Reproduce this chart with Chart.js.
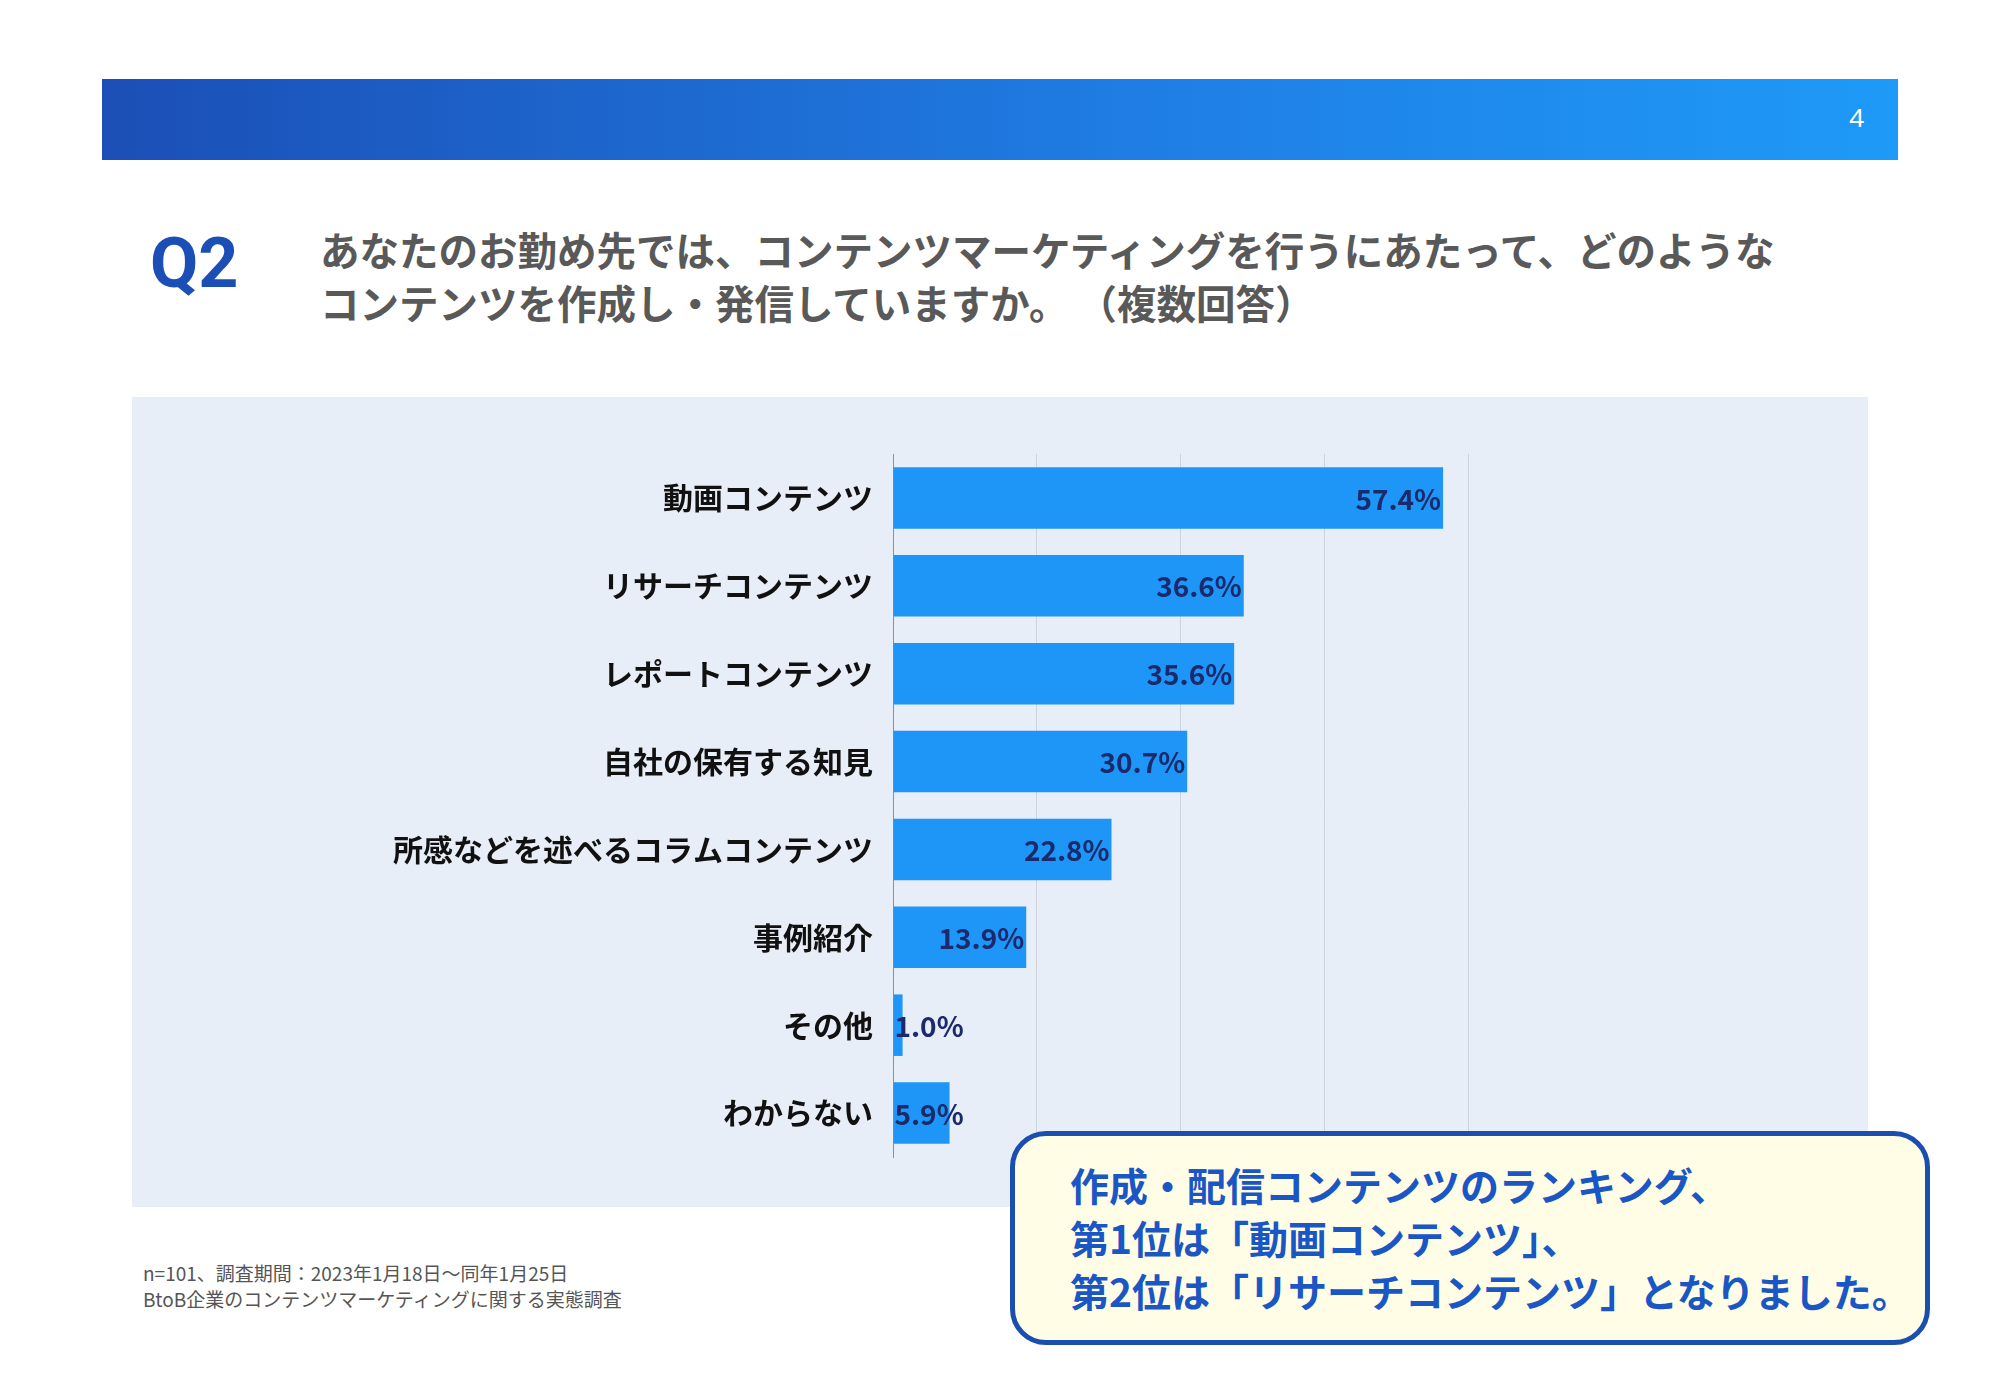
<!DOCTYPE html>
<html>
<head>
<meta charset="utf-8">
<script src="https://cdn.jsdelivr.net/npm/chart.js@4"></script>
<style>
  body { margin: 0; width: 1999px; height: 1382px; background: #fff; position: relative; overflow: hidden;
         font-family: "Noto Sans CJK JP", "Noto Sans", sans-serif; }
  .header { position: absolute; left: 102px; top: 79px; width: 1796px; height: 81px;
            background: linear-gradient(90deg, #1b4fb6 0%, #1f7fe6 60%, #1e9af8 100%); }
  .page { position: absolute; right: 34px; top: 20px; color: #fff; font-size: 26px; font-family: "Noto Sans", sans-serif; }
  .q { position: absolute; left: 150px; top: 222px; font-size: 70px; font-weight: 700; color: #1b4fb6; font-family: Roboto, "Noto Sans", sans-serif; }
  .question { position: absolute; left: 320px; top: 222px; font-size: 39.5px; font-weight: 700; color: #595959; line-height: 53px; }
  .panel { position: absolute; left: 132px; top: 397px; width: 1736px; height: 810px; background: #e8eef8; }
  #chart { position: absolute; left: 127px; top: 416px; }
  .note { position: absolute; left: 143px; top: 1260px; font-size: 19px; color: #555; line-height: 26px; }
  .callout { position: absolute; left: 1010px; top: 1131px; width: 920px; height: 214px; box-sizing: border-box;
             background: #fffde5; border: 5px solid #1a4fb0; border-radius: 36px; }
  .callout div { position: absolute; left: 55px; top: 22px; font-size: 39px; font-weight: 700; color: #1a56c4; line-height: 53px; white-space: nowrap; }
</style>
</head>
<body>
<div class="header"><span class="page">4</span></div>
<div class="q">Q2</div>
<div class="question">あなたのお勤め先では、コンテンツマーケティングを行うにあたって、どのような<br>コンテンツを作成し・発信していますか。 （複数回答）</div>
<div class="panel"></div>
<canvas id="chart" width="1344" height="779"></canvas>
<div class="note">n=101、調査期間：2023年1月18日〜同年1月25日<br>BtoB企業のコンテンツマーケティングに関する実態調査</div>
<div class="callout"><div>作成・配信コンテンツのランキング、<br>第1位は「動画コンテンツ」、<br>第2位は「リサーチコンテンツ」となりました。</div></div>
<script>
const categories = ['動画コンテンツ', 'リサーチコンテンツ', 'レポートコンテンツ', '自社の保有する知見',
  '所感などを述べるコラムコンテンツ', '事例紹介', 'その他', 'わからない'];
const values = [57.4, 36.6, 35.6, 30.7, 22.8, 13.9, 1.0, 5.9];
const xMax = 60;
const xStep = 15;

const FONT = '"Noto Sans CJK JP", "Noto Sans", sans-serif';

const valueLabels = {
  id: 'valueLabels',
  afterDatasetsDraw(chart) {
    const ctx = chart.ctx;
    const meta = chart.getDatasetMeta(0);
    ctx.save();
    ctx.font = 'bold 28px ' + FONT;
    ctx.fillStyle = '#1a2a6c';
    ctx.textBaseline = 'middle';
    ctx.textAlign = 'left';
    meta.data.forEach((bar, i) => {
      const txt = values[i].toFixed(1) + '%';
      const w = ctx.measureText(txt).width;
      const x = Math.max(bar.x - w - 2, bar.base + 1);
      ctx.fillText(txt, x, bar.y + 1);
    });
    ctx.restore();
  }
};

new Chart(document.getElementById('chart'), {
  type: 'bar',
  data: {
    labels: categories,
    datasets: [{
      data: values,
      backgroundColor: '#1e96f7',
      categoryPercentage: 0.7,
      barPercentage: 1.0,
    }],
  },
  options: {
    indexAxis: 'y',
    responsive: false,
    animation: false,
    layout: { padding: { right: 3 } },
    plugins: { legend: { display: false }, tooltip: { enabled: false } },
    scales: {
      x: {
        min: 0,
        max: xMax,
        afterFit: (scale) => { scale.height = 0; },
        ticks: { display: false, stepSize: xStep },
        grid: { color: '#cfd4dc', lineWidth: 1, drawTicks: false },
        border: { display: false },
      },
      y: {
        afterFit: (scale) => { scale.width = 766; },
        ticks: { color: '#111', font: { family: FONT, size: 30, weight: 'bold' }, padding: 20 },
        grid: { display: false, drawTicks: false },
        border: { color: '#8a8f99', width: 1 },
      },
    },
  },
  plugins: [valueLabels],
});
</script>
</body>
</html>
